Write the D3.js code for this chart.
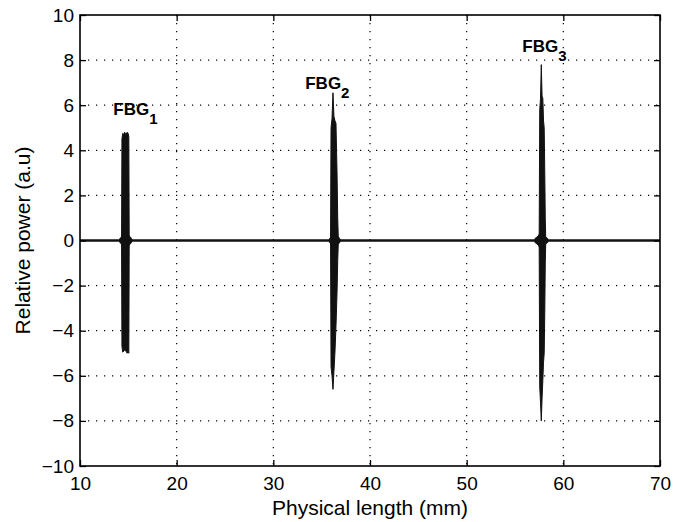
<!DOCTYPE html>
<html>
<head>
<meta charset="utf-8">
<script src="https://cdn.jsdelivr.net/npm/d3@7"></script>
<style>
  body { margin: 0; background: #fff; }
  svg { display: block; }
  .tick text { font-family: "Liberation Sans", Arial, sans-serif; font-size: 19px; fill: #000; }
  .lbl { font-family: "Liberation Sans", Arial, sans-serif; font-size: 21px; fill: #000; }
  .fbg { font-family: "Liberation Sans", Arial, sans-serif; font-weight: bold; font-size: 17px; fill: #000; }
</style>
</head>
<body>
<div id="chart"></div>
<script>
// axis ticks and labels
var xTicks = [10, 20, 30, 40, 50, 60, 70];
var xTickLabels = ["10", "20", "30", "40", "50", "60", "70"];
var yTicks = [-10, -8, -6, -4, -2, 0, 2, 4, 6, 8, 10];
var yTickLabels = ["\u221210", "\u22128", "\u22126", "\u22124", "\u22122", "0", "2", "4", "6", "8", "10"];

// trace: [length mm, upper envelope, lower envelope]
var baseline = [[10, 0.05, -0.05], [70, 0.05, -0.05]];
var fbg1Env = [[14.30, 0.1, -0.1], [14.34, 4.5, -4.7], [14.42, 4.75, -4.95], [14.55, 4.7, -4.9],
               [14.62, 4.8, -4.85], [14.75, 4.7, -4.9], [14.88, 4.8, -5.0], [14.98, 4.75, -4.9],
               [15.05, 4.6, -5.0], [15.09, 0.1, -0.1]];
var fbg2Env = [[35.92, 0.1, -0.1], [35.97, 5.0, -5.6], [36.07, 5.4, -6.0], [36.17, 6.55, -6.6],
               [36.27, 5.5, -5.8], [36.38, 5.3, -4.9], [36.48, 5.2, -3.8], [36.59, 3.0, -2.3],
               [36.66, 1.0, -0.9], [36.72, 0.1, -0.1]];
var fbg3Env = [[57.50, 0.1, -0.1], [57.56, 5.8, -6.5], [57.64, 6.3, -7.2], [57.72, 7.8, -8.0],
               [57.80, 6.4, -7.0], [57.88, 6.3, -6.2], [57.95, 5.3, -5.4], [58.02, 5.0, -5.0],
               [58.08, 3.0, -3.2], [58.13, 1.0, -1.0], [58.18, 0.1, -0.1]];
// the small blobs where each grating crosses zero
var fbg1Core = [[14.1, 0.08, -0.08], [14.4, 0.2, -0.2], [14.75, 0.35, -0.35], [15.1, 0.2, -0.2], [15.35, 0.08, -0.08]];
var fbg2Core = [[35.8, 0.08, -0.08], [36.05, 0.2, -0.2], [36.28, 0.35, -0.35], [36.6, 0.2, -0.2], [36.9, 0.08, -0.08]];
var fbg3Core = [[57.05, 0.08, -0.08], [57.4, 0.2, -0.2], [57.69, 0.4, -0.4], [58.0, 0.2, -0.2], [58.4, 0.08, -0.08]];

// grating labels, in data coordinates
var fbgNames = ["FBG", "FBG", "FBG"];
var fbgSubs = ["1", "2", "3"];
var fbgLabelX = [13.45, 33.3, 55.75];
var fbgLabelY = [5.55, 6.74, 8.38];

var width = 686, height = 522;
var margin = {top: 15, right: 26, bottom: 56, left: 80};
var w = width - margin.left - margin.right;
var h = height - margin.top - margin.bottom;

var svg = d3.select("#chart").append("svg")
  .attr("width", width)
  .attr("height", height);

var g = svg.append("g")
  .attr("transform", "translate(" + margin.left + "," + margin.top + ")");

var x = d3.scaleLinear().domain([10, 70]).range([0, w]);
var y = d3.scaleLinear().domain([-10, 10]).range([h, 0]);

// dotted grid
g.append("g").selectAll("line")
  .data(xTicks.slice(1, -1))
  .enter().append("line")
  .attr("x1", function(d) { return x(d); })
  .attr("x2", function(d) { return x(d); })
  .attr("y1", 0).attr("y2", h)
  .style("stroke", "#000").style("stroke-width", 1.2)
  .style("stroke-dasharray", "1.2,6.8");
g.append("g").selectAll("line")
  .data(yTicks.slice(1, -1))
  .enter().append("line")
  .attr("y1", function(d) { return y(d); })
  .attr("y2", function(d) { return y(d); })
  .attr("x1", 0).attr("x2", w)
  .style("stroke", "#000").style("stroke-width", 1.2)
  .style("stroke-dasharray", "1.2,6.8");

// trace
var area = d3.area()
  .x(function(d) { return x(d[0]); })
  .y0(function(d) { return y(d[2]); })
  .y1(function(d) { return y(d[1]); });

g.append("line")
  .attr("x1", x(baseline[0][0])).attr("x2", x(baseline[1][0]))
  .attr("y1", y(0)).attr("y2", y(0))
  .style("stroke", "#111").style("stroke-width", 2.4);

[fbg1Env, fbg2Env, fbg3Env, fbg1Core, fbg2Core, fbg3Core].forEach(function(env) {
  g.append("path")
    .datum(env)
    .attr("d", area)
    .style("fill", "#111")
    .style("stroke", "#111")
    .style("stroke-width", 1);
});

// axes, ticks pointing inward like matlab
var xAxis = d3.axisBottom(x).tickValues(xTicks)
  .tickFormat(function(d, i) { return xTickLabels[i]; })
  .tickSizeInner(-6).tickSizeOuter(0).tickPadding(11);
var yAxis = d3.axisLeft(y).tickValues(yTicks)
  .tickFormat(function(d, i) { return yTickLabels[i]; })
  .tickSizeInner(-6).tickSizeOuter(0).tickPadding(6);

g.append("g").attr("transform", "translate(0," + h + ")").call(xAxis);
g.append("g").call(yAxis);
g.append("g").call(d3.axisTop(x).tickValues(xTicks).tickFormat("").tickSizeInner(-6).tickSizeOuter(0));
g.append("g").attr("transform", "translate(" + w + ",0)")
  .call(d3.axisRight(y).tickValues(yTicks).tickFormat("").tickSizeInner(-6).tickSizeOuter(0));

g.selectAll(".domain").remove();
g.selectAll(".tick line").style("stroke", "#000").style("stroke-width", 1.3);

g.append("rect")
  .attr("width", w).attr("height", h)
  .style("fill", "none").style("stroke", "#000").style("stroke-width", 1.6);

// grating labels
fbgNames.forEach(function(name, i) {
  var t = g.append("text")
    .attr("class", "fbg")
    .attr("x", x(fbgLabelX[i]))
    .attr("y", y(fbgLabelY[i]));
  t.append("tspan").text(name);
  t.append("tspan").attr("dy", 9).style("font-size", "15px").text(fbgSubs[i]);
});

// axis titles
svg.append("text")
  .attr("class", "lbl")
  .attr("x", margin.left + w / 2)
  .attr("y", 515)
  .attr("text-anchor", "middle")
  .text("Physical length (mm)");

svg.append("text")
  .attr("class", "lbl")
  .attr("transform", "translate(30," + (margin.top + h / 2) + ") rotate(-90)")
  .attr("text-anchor", "middle")
  .text("Relative power (a.u)");
</script>
</body>
</html>
